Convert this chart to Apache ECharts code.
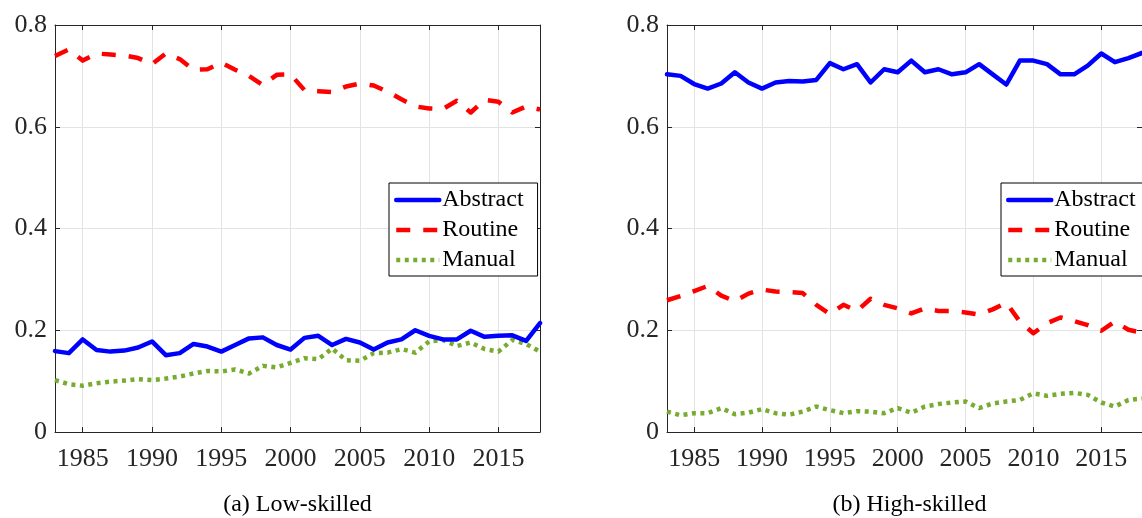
<!DOCTYPE html>
<html>
<head>
<meta charset="utf-8">
<script src="https://cdn.jsdelivr.net/npm/echarts@6/dist/echarts.min.js"></script>
<style>
  html, body { margin: 0; padding: 0; background: #fff; }
  #chart { width: 1142px; height: 518px; }
</style>
</head>
<body>
<div id="chart"></div>
<script>
// Task-content shares by year, low- and high-skilled workers
const years = [1983, 1984, 1985, 1986, 1987, 1988, 1989, 1990, 1991, 1992, 1993, 1994,
               1995, 1996, 1997, 1998, 1999, 2000, 2001, 2002, 2003, 2004, 2005, 2006,
               2007, 2008, 2009, 2010, 2011, 2012, 2013, 2014, 2015, 2016, 2017, 2018];

const lowAbstract = [0.159, 0.155, 0.182, 0.161, 0.158, 0.160, 0.166, 0.178, 0.151, 0.155, 0.173, 0.168,
                     0.158, 0.171, 0.184, 0.186, 0.171, 0.162, 0.185, 0.189, 0.171, 0.183, 0.176, 0.162,
                     0.176, 0.182, 0.200, 0.189, 0.182, 0.182, 0.199, 0.187, 0.189, 0.190, 0.179, 0.214];
const lowRoutine  = [0.739, 0.752, 0.730, 0.744, 0.742, 0.740, 0.735, 0.723, 0.744, 0.733, 0.712, 0.713,
                     0.726, 0.712, 0.700, 0.682, 0.702, 0.703, 0.672, 0.670, 0.668, 0.679, 0.685, 0.681,
                     0.669, 0.654, 0.640, 0.636, 0.635, 0.651, 0.628, 0.653, 0.649, 0.628, 0.640, 0.634];
const lowManual   = [0.102, 0.094, 0.091, 0.096, 0.099, 0.101, 0.104, 0.102, 0.105, 0.109, 0.115, 0.120,
                     0.119, 0.123, 0.115, 0.130, 0.127, 0.136, 0.145, 0.143, 0.164, 0.141, 0.140, 0.155,
                     0.156, 0.163, 0.156, 0.178, 0.181, 0.169, 0.176, 0.163, 0.158, 0.181, 0.173, 0.158];

const highAbstract = [0.703, 0.700, 0.684, 0.675, 0.685, 0.707, 0.687, 0.675, 0.687, 0.690, 0.689, 0.692,
                      0.725, 0.713, 0.723, 0.687, 0.713, 0.707, 0.730, 0.707, 0.713, 0.703, 0.707, 0.723,
                      0.703, 0.683, 0.730, 0.730, 0.723, 0.703, 0.703, 0.720, 0.744, 0.727, 0.735, 0.745];
const highRoutine  = [0.259, 0.267, 0.277, 0.287, 0.268, 0.257, 0.272, 0.280, 0.276, 0.275, 0.273, 0.250,
                      0.232, 0.250, 0.238, 0.262, 0.250, 0.243, 0.233, 0.243, 0.238, 0.238, 0.235, 0.231,
                      0.241, 0.254, 0.217, 0.194, 0.214, 0.225, 0.218, 0.210, 0.199, 0.217, 0.201, 0.195];
const highManual   = [0.040, 0.033, 0.037, 0.037, 0.047, 0.035, 0.038, 0.045, 0.037, 0.034, 0.040, 0.050,
                      0.043, 0.037, 0.041, 0.040, 0.037, 0.047, 0.038, 0.050, 0.055, 0.058, 0.060, 0.047,
                      0.056, 0.060, 0.063, 0.076, 0.071, 0.075, 0.077, 0.073, 0.058, 0.050, 0.063, 0.066];

const xTicks = [1985, 1990, 1995, 2000, 2005, 2010, 2015];
const seriesNames = ['Abstract', 'Routine', 'Manual'];
const panelCaptions = ['(a) Low-skilled', '(b) High-skilled'];

const SERIF = '"Liberation Serif", "DejaVu Serif", serif';
const AXIS_COLOR = '#262626';
const GRID_COLOR = '#e3e3e3';
const LINE_WIDTH = 4.5;

const chart = echarts.init(document.getElementById('chart'), null, { renderer: 'canvas' });

const panels = [
  { left: 55,  values: [lowAbstract, lowRoutine, lowManual] },
  { left: 667, values: [highAbstract, highRoutine, highManual] }
];

const styles = [
  { color: '#0000ff', type: 'solid', cap: 'round' },
  { color: '#ff0000', type: [14, 13], cap: 'butt' },
  { color: '#77ac30', type: [4, 4.5], cap: 'butt' }
];

const grids = [], xAxes = [], yAxes = [], series = [], legends = [], graphics = [];

panels.forEach((p, gi) => {
  grids.push({ left: p.left, top: 25, width: 485, height: 407, containLabel: false });

  // bottom and top x axes (top one only carries inward ticks, closing the box)
  ['bottom', 'top'].forEach((pos) => {
    xAxes.push({
      type: 'value', gridIndex: gi, position: pos, min: 1983, max: 2018,
      axisLine: { show: true, onZero: false, lineStyle: { color: AXIS_COLOR, width: 1 } },
      axisTick: { show: true, inside: true, length: 5, customValues: xTicks,
                  lineStyle: { color: AXIS_COLOR, width: 1 } },
      axisLabel: { show: pos === 'bottom', customValues: xTicks, margin: 14,
                   fontFamily: SERIF, fontSize: 26, color: AXIS_COLOR,
                   formatter: (v) => String(v) },
      splitLine: { show: pos === 'bottom', lineStyle: { color: GRID_COLOR, width: 1 } }
    });
  });

  ['left', 'right'].forEach((pos) => {
    yAxes.push({
      type: 'value', gridIndex: gi, position: pos, min: 0, max: 0.8, interval: 0.2,
      axisLine: { show: true, onZero: false, lineStyle: { color: AXIS_COLOR, width: 1 } },
      axisTick: { show: true, inside: true, length: 5, lineStyle: { color: AXIS_COLOR, width: 1 } },
      axisLabel: { show: pos === 'left', margin: 8, fontFamily: SERIF, fontSize: 26, color: AXIS_COLOR,
                   padding: [5, 0, 0, 0],
                   formatter: (v) => (v === 0 ? '0' : v.toFixed(1)) },
      splitLine: { show: pos === 'left', lineStyle: { color: GRID_COLOR, width: 1 } }
    });
  });

  p.values.forEach((vals, si) => {
    const st = styles[si];
    series.push({
      name: seriesNames[si],
      type: 'line',
      xAxisIndex: gi * 2,
      yAxisIndex: gi * 2,
      data: years.map((y, i) => [y, vals[i]]),
      showSymbol: false,
      symbol: 'none',
      silent: true,
      animation: false,
      z: 3 - si,
      color: st.color,
      lineStyle: { color: st.color, width: LINE_WIDTH, type: st.type, cap: st.cap, join: 'round' }
    });
  });

  legends.push({
    data: seriesNames.map((name, si) => ({
      name: name,
      lineStyle: { width: LINE_WIDTH, type: styles[si].type, cap: styles[si].cap, color: styles[si].color }
    })),
    orient: 'vertical',
    left: p.left + 334,
    top: 183,
    itemWidth: 43,
    itemHeight: 14,
    itemGap: 6,
    padding: [5, 14, 4, 5],
    backgroundColor: '#ffffff',
    borderColor: '#000000',
    borderWidth: 1,
    borderRadius: 0,
    selectedMode: false,
    itemStyle: { opacity: 0 },
    lineStyle: { width: LINE_WIDTH },
    textStyle: { fontFamily: SERIF, fontSize: 24, color: '#000000', lineHeight: 24, padding: [0, 0, 0, -2] }
  });

  graphics.push({
    type: 'text',
    x: p.left + 242.5,
    y: 505,
    style: {
      text: panelCaptions[gi],
      fontFamily: SERIF,
      fontSize: 24,
      fill: '#000000',
      textAlign: 'center',
      textVerticalAlign: 'middle'
    }
  });
});

chart.setOption({
  animation: false,
  backgroundColor: '#ffffff',
  grid: grids,
  xAxis: xAxes,
  yAxis: yAxes,
  legend: legends,
  series: series,
  graphic: graphics
});
</script>
</body>
</html>
